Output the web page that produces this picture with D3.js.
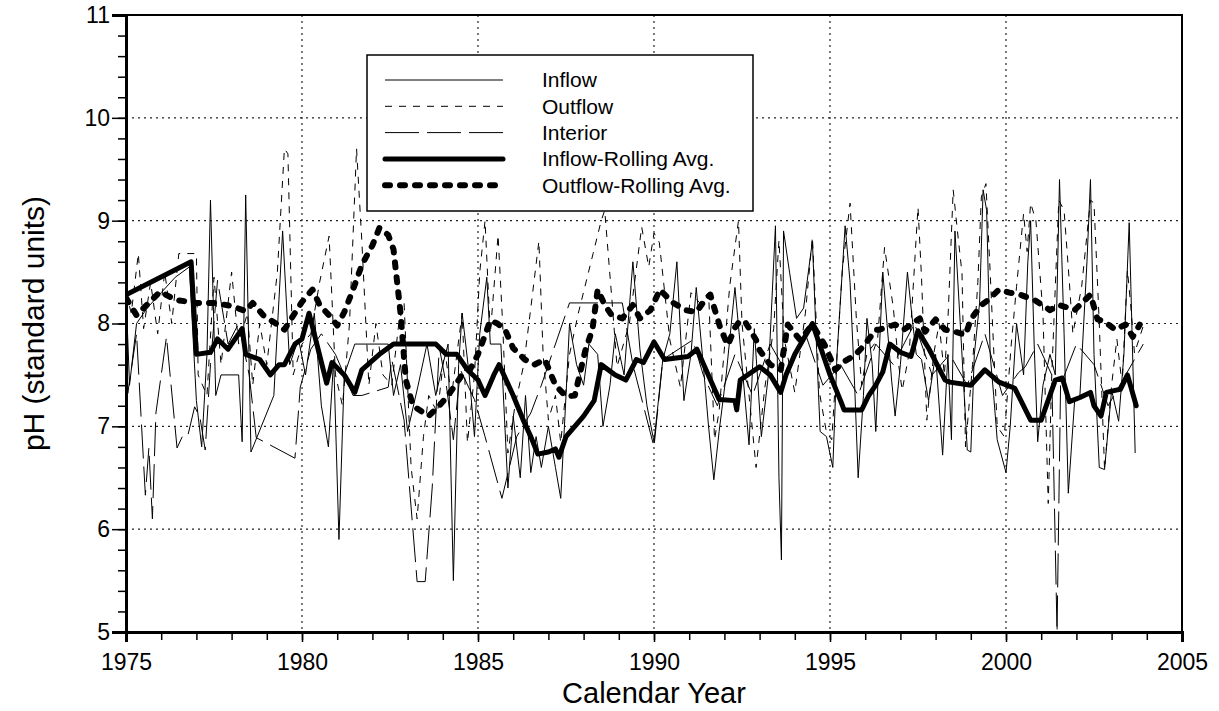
<!DOCTYPE html>
<html>
<head>
<meta charset="utf-8">
<script src="https://cdn.jsdelivr.net/npm/d3@7"></script>
<style>
  body { margin: 0; background: #fff; }
  text { font-family: Arial, "Liberation Sans", sans-serif; fill: #000; }
</style>
</head>
<body>
<svg width="1219" height="711"></svg>
<script>
// ---- data: [decimal year, pH] ----
const inflow = [
  [1975.00,8.30],[1975.10,7.40],[1975.30,8.00],[1975.60,8.15],[1976.00,8.30],[1976.40,8.45],[1976.80,8.55],
  [1977.00,7.25],[1977.15,6.80],[1977.30,7.70],[1977.40,9.20],[1977.55,7.30],[1977.70,7.50],[1978.20,7.50],
  [1978.30,6.85],[1978.40,9.25],[1978.55,6.75],[1979.20,7.30],[1979.45,8.90],[1979.65,7.60],[1979.90,7.85],
  [1980.10,7.50],[1980.35,8.10],[1980.55,7.20],[1980.75,6.80],[1980.90,7.65],[1981.05,5.90],[1981.20,7.50],
  [1981.50,7.80],[1982.45,7.80],[1982.60,7.30],[1982.80,7.60],[1983.00,6.95],[1983.30,7.40],[1983.55,7.80],
  [1983.80,7.30],[1984.00,7.60],[1984.15,7.80],[1984.30,5.50],[1984.45,7.60],[1984.55,8.10],[1984.75,7.50],
  [1984.90,6.90],[1985.05,7.90],[1985.25,8.45],[1985.35,7.80],[1985.65,7.80],[1985.85,6.40],[1986.00,7.10],
  [1986.20,6.50],[1986.35,7.30],[1986.50,6.55],[1986.65,6.90],[1986.80,6.60],[1987.00,7.00],[1987.20,6.60],
  [1987.35,6.30],[1987.50,7.30],[1987.60,8.00],[1987.80,7.60],[1988.00,7.40],[1988.15,7.80],[1988.40,7.70],
  [1988.55,7.00],[1988.75,7.40],[1988.90,7.90],[1989.15,7.50],[1989.40,8.60],[1989.60,7.75],[1989.80,7.20],
  [1990.00,6.85],[1990.25,7.65],[1990.45,7.90],[1990.65,8.60],[1990.85,7.25],[1991.05,7.70],[1991.20,8.35],
  [1991.40,7.60],[1991.55,7.00],[1991.70,6.48],[1991.85,6.95],[1992.05,7.50],[1992.30,8.35],[1992.50,7.60],
  [1992.70,6.82],[1992.85,7.95],[1993.05,6.90],[1993.25,7.50],[1993.45,8.95],[1993.55,6.50],[1993.62,5.70],
  [1993.68,8.90],[1993.85,8.50],[1994.05,8.05],[1994.25,8.15],[1994.50,8.80],[1994.62,7.75],[1994.72,6.95],
  [1994.90,6.90],[1995.08,6.60],[1995.20,7.70],[1995.43,8.95],[1995.57,8.40],[1995.70,7.40],[1995.80,6.50],
  [1995.95,7.30],[1996.05,8.05],[1996.20,7.60],[1996.30,6.95],[1996.50,8.50],[1996.62,8.00],[1996.75,7.45],
  [1996.85,7.10],[1997.00,7.60],[1997.20,8.50],[1997.32,8.10],[1997.45,7.70],[1997.60,7.65],[1997.80,7.25],
  [1998.00,7.70],[1998.20,6.72],[1998.35,7.70],[1998.45,6.87],[1998.55,8.90],[1998.70,8.00],[1998.90,6.77],
  [1999.00,6.75],[1999.10,7.70],[1999.25,8.20],[1999.35,9.30],[1999.45,9.10],[1999.55,7.70],[1999.65,7.30],
  [1999.75,6.87],[2000.00,6.55],[2000.12,7.00],[2000.30,8.00],[2000.50,7.50],[2000.62,8.60],[2000.70,9.00],
  [2000.80,7.80],[2000.90,6.85],[2001.05,7.40],[2001.25,7.70],[2001.40,7.50],[2001.52,9.40],[2001.65,7.90],
  [2001.77,6.35],[2001.95,7.25],[2002.10,7.30],[2002.30,8.60],[2002.40,9.40],[2002.50,7.70],[2002.65,6.60],
  [2002.80,6.58],[2003.00,7.35],[2003.20,7.05],[2003.35,7.70],[2003.50,8.98],[2003.67,6.74]
];

const outflow = [
  [1975.00,8.30],[1975.15,8.10],[1975.35,8.68],[1975.50,7.95],[1975.70,8.40],[1975.90,7.90],[1976.10,8.50],
  [1976.30,8.00],[1976.50,8.68],[1977.00,8.68],[1977.05,7.50],[1977.30,7.30],[1977.50,8.45],[1977.70,7.60],
  [1978.00,8.50],[1978.20,7.80],[1978.45,8.10],[1978.60,7.40],[1978.80,8.00],[1979.00,7.60],[1979.30,8.50],
  [1979.50,9.70],[1979.60,9.65],[1979.75,7.50],[1980.00,7.80],[1980.25,7.90],[1980.50,8.40],[1980.77,8.85],
  [1980.95,7.50],[1981.15,7.20],[1981.35,8.00],[1981.55,9.70],[1981.70,8.80],[1981.90,7.40],[1982.10,8.00],
  [1982.30,7.50],[1982.55,7.40],[1982.75,8.00],[1982.90,8.20],[1983.10,6.60],[1983.27,6.10],[1983.45,6.90],
  [1983.60,7.30],[1983.85,7.13],[1984.05,7.74],[1984.25,7.30],[1984.55,8.10],[1984.70,6.84],[1984.90,7.50],
  [1985.05,8.50],[1985.20,9.00],[1985.35,7.90],[1985.57,8.86],[1985.70,8.00],[1985.85,6.74],[1986.05,7.20],
  [1986.30,7.60],[1986.50,8.15],[1986.73,8.80],[1986.85,7.70],[1987.00,7.06],[1987.20,7.30],[1987.35,6.84],
  [1987.60,7.70],[1987.85,8.10],[1988.27,8.68],[1988.50,9.00],[1988.60,9.10],[1988.80,8.25],[1988.95,7.58],
  [1989.30,8.00],[1989.65,8.94],[1989.85,8.55],[1990.00,8.88],[1990.15,8.79],[1990.45,7.84],[1990.75,7.38],
  [1991.05,8.30],[1991.30,8.20],[1991.55,8.30],[1991.72,6.87],[1991.85,7.15],[1992.15,8.36],[1992.40,9.00],
  [1992.50,8.00],[1992.75,7.13],[1992.90,6.60],[1993.15,7.38],[1993.40,7.95],[1993.55,8.81],[1993.70,7.85],
  [1994.00,7.33],[1994.30,8.10],[1994.50,8.84],[1994.70,7.33],[1994.90,6.94],[1995.05,6.87],[1995.35,8.52],
  [1995.57,9.17],[1995.75,8.04],[1995.90,7.40],[1996.05,7.71],[1996.35,7.84],[1996.55,8.74],[1996.80,8.15],
  [1996.95,7.60],[1997.05,7.35],[1997.25,7.71],[1997.50,9.13],[1997.60,8.45],[1997.75,7.06],[1997.95,7.71],
  [1998.10,8.00],[1998.25,7.50],[1998.35,8.03],[1998.50,9.30],[1998.62,8.90],[1998.75,8.49],[1998.85,6.80],
  [1999.05,7.60],[1999.20,8.40],[1999.30,9.23],[1999.43,9.36],[1999.55,8.50],[1999.75,7.00],[1999.95,6.90],
  [2000.15,7.80],[2000.30,8.36],[2000.50,9.07],[2000.60,8.70],[2000.70,9.17],[2000.85,9.00],[2001.05,8.10],
  [2001.20,6.25],[2001.30,7.50],[2001.50,9.20],[2001.65,9.10],[2001.80,8.40],[2001.90,7.90],[2002.15,8.36],
  [2002.40,9.20],[2002.50,9.17],[2002.65,8.00],[2002.80,6.58],[2003.00,7.40],[2003.15,7.85],[2003.30,7.40],
  [2003.45,8.52],[2003.55,8.15],[2003.65,7.71],[2003.95,8.03]
];

const interior = [
  [1975.00,8.30],[1975.05,7.32],[1975.30,7.90],[1975.55,6.33],[1975.65,6.79],[1975.75,6.10],[1975.85,7.13],
  [1976.15,7.87],[1976.45,6.79],[1976.60,6.90],[1976.75,6.90],[1976.95,7.19],[1977.10,7.09],[1977.25,6.77],
  [1977.40,7.60],[1977.60,8.42],[1977.90,7.80],[1978.20,8.00],[1978.50,7.50],[1978.70,6.89],[1979.80,6.69],
  [1979.95,7.38],[1980.25,7.75],[1980.55,7.90],[1980.95,7.70],[1981.45,7.30],[1981.70,7.30],[1982.45,7.38],
  [1982.55,7.65],[1982.90,7.06],[1983.27,5.49],[1983.50,5.49],[1983.70,6.41],[1983.90,7.77],[1984.10,7.40],
  [1984.30,6.87],[1984.50,7.55],[1984.90,7.26],[1985.20,6.90],[1985.68,6.30],[1986.10,6.90],[1986.50,7.13],
  [1986.80,7.40],[1987.60,8.20],[1989.10,8.20],[1989.40,7.60],[1990.00,6.80],[1990.25,7.65],[1991.10,7.84],
  [1991.40,7.50],[1991.80,7.20],[1992.30,7.70],[1992.80,7.30],[1993.30,7.80],[1993.80,7.50],[1994.30,7.90],
  [1994.80,7.40],[1995.30,7.60],[1995.80,7.30],[1996.30,7.80],[1996.80,7.60],[1997.40,8.00],[1997.90,7.50],
  [1998.40,7.70],[1998.90,7.40],[1999.40,7.90],[1999.90,7.30],[2000.35,7.52],[2000.55,7.58],[2000.90,7.80],
  [2001.30,7.50],[2001.45,5.00],[2001.55,7.40],[2002.00,7.80],[2002.50,7.60],[2002.90,7.20],[2003.40,7.50],
  [2003.90,7.80]
];

const inflowAvg = [
  [1975.00,8.28],[1976.85,8.60],[1977.00,7.70],[1977.40,7.72],[1977.60,7.85],[1977.90,7.75],[1978.30,7.95],
  [1978.40,7.70],[1978.80,7.65],[1979.10,7.50],[1979.35,7.60],[1979.50,7.60],[1979.80,7.80],[1980.00,7.85],
  [1980.20,8.10],[1980.70,7.42],[1980.85,7.62],[1981.20,7.50],[1981.50,7.33],[1981.70,7.55],[1982.20,7.70],
  [1982.60,7.80],[1983.80,7.80],[1984.10,7.70],[1984.40,7.70],[1984.70,7.55],[1985.00,7.45],[1985.20,7.30],
  [1985.45,7.50],[1985.60,7.60],[1986.00,7.30],[1986.30,7.05],[1986.50,6.90],[1986.70,6.73],[1987.00,6.75],
  [1987.20,6.78],[1987.30,6.70],[1987.50,6.90],[1988.00,7.10],[1988.30,7.25],[1988.50,7.60],[1988.90,7.50],
  [1989.20,7.45],[1989.50,7.65],[1989.70,7.62],[1990.00,7.82],[1990.30,7.65],[1990.97,7.68],[1991.22,7.75],
  [1991.85,7.26],[1992.30,7.25],[1992.35,7.16],[1992.45,7.45],[1993.00,7.58],[1993.30,7.50],[1993.60,7.33],
  [1993.75,7.50],[1994.00,7.70],[1994.50,8.00],[1995.00,7.50],[1995.30,7.25],[1995.40,7.16],[1995.90,7.16],
  [1996.10,7.30],[1996.30,7.40],[1996.50,7.53],[1996.70,7.80],[1997.00,7.72],[1997.30,7.68],[1997.50,7.93],
  [1997.80,7.76],[1998.27,7.45],[1998.40,7.43],[1999.00,7.40],[1999.40,7.55],[1999.80,7.43],[2000.25,7.37],
  [2000.70,7.06],[2001.00,7.06],[2001.40,7.45],[2001.60,7.47],[2001.80,7.24],[2002.10,7.28],[2002.40,7.33],
  [2002.50,7.20],[2002.70,7.10],[2002.85,7.33],[2003.10,7.35],[2003.25,7.36],[2003.45,7.50],[2003.70,7.20]
];

const outflowAvg = [
  [1975.00,8.25],[1975.30,8.08],[1975.97,8.31],[1976.40,8.23],[1977.00,8.20],[1977.50,8.20],[1978.00,8.17],
  [1978.40,8.12],[1978.60,8.20],[1978.90,8.08],[1979.30,7.99],[1979.50,7.94],[1979.70,8.05],[1980.00,8.21],
  [1980.30,8.33],[1980.50,8.18],[1980.85,8.05],[1981.00,7.98],[1981.20,8.11],[1981.45,8.33],[1981.70,8.57],
  [1982.00,8.76],[1982.20,8.93],[1982.45,8.86],[1982.60,8.72],[1982.80,8.10],[1982.95,7.45],[1983.15,7.20],
  [1983.60,7.10],[1983.90,7.20],[1984.15,7.30],[1984.35,7.40],[1984.55,7.50],[1984.77,7.55],[1985.00,7.70],
  [1985.35,8.03],[1985.55,8.00],[1985.77,7.94],[1986.00,7.76],[1986.33,7.65],[1986.60,7.60],[1986.90,7.65],
  [1987.20,7.40],[1987.50,7.29],[1987.75,7.30],[1988.05,7.74],[1988.25,7.94],[1988.40,8.33],[1988.60,8.18],
  [1988.80,8.08],[1989.10,8.05],[1989.40,8.18],[1989.60,8.05],[1989.90,8.13],[1990.17,8.33],[1990.50,8.21],
  [1990.90,8.13],[1991.20,8.11],[1991.45,8.23],[1991.60,8.28],[1991.73,8.13],[1991.90,7.94],[1992.10,7.79],
  [1992.30,7.96],[1992.45,8.03],[1992.60,8.01],[1992.90,7.84],[1993.00,7.74],[1993.30,7.60],[1993.60,7.55],
  [1993.80,7.99],[1994.15,7.84],[1994.50,7.99],[1994.85,7.79],[1995.15,7.55],[1995.40,7.63],[1995.70,7.69],
  [1995.98,7.79],[1996.30,7.94],[1996.40,7.94],[1996.85,7.99],[1997.10,7.94],[1997.30,7.99],[1997.55,8.05],
  [1997.70,7.92],[1998.00,8.04],[1998.27,7.94],[1998.55,7.92],[1998.85,7.89],[1999.00,8.04],[1999.30,8.18],
  [1999.50,8.23],[1999.80,8.33],[2000.10,8.30],[2000.40,8.28],[2000.80,8.23],[2001.25,8.13],[2001.50,8.18],
  [2001.80,8.15],[2001.95,8.13],[2002.25,8.23],[2002.40,8.28],[2002.60,8.04],[2002.80,8.02],[2003.10,7.94],
  [2003.40,7.99],[2003.60,7.87],[2003.80,7.99]
];

const xMajor = [1975, 1980, 1985, 1990, 1995, 2000, 2005];
const yMajor = [5, 6, 7, 8, 9, 10, 11];

const legendItems = [
  { name: "Inflow", width: 1, dash: null },
  { name: "Outflow", width: 1, dash: "7,7" },
  { name: "Interior", width: 1, dash: "34,8" },
  { name: "Inflow-Rolling Avg.", width: 5, dash: null },
  { name: "Outflow-Rolling Avg.", width: 6, dash: "5,10" }
];

// ---- layout ----
const svg = d3.select("svg");
const plotL = 126, plotR = 1182, plotT = 15, plotB = 632;

const x = d3.scaleLinear().domain([1975, 2005]).range([plotL, plotR]);
const y = d3.scaleLinear().domain([5, 11]).range([plotB, plotT]);

// grid (dotted)
const grid = svg.append("g");
grid.selectAll("line.vg").data(xMajor.slice(1, -1)).enter().append("line")
  .attr("x1", d => x(d)).attr("x2", d => x(d))
  .attr("y1", plotT).attr("y2", plotB)
  .style("stroke", "#222").style("stroke-width", 1.2).style("stroke-dasharray", "2,4");
grid.selectAll("line.hg").data(yMajor.slice(1, -1)).enter().append("line")
  .attr("x1", plotL).attr("x2", plotR)
  .attr("y1", d => y(d)).attr("y2", d => y(d))
  .style("stroke", "#222").style("stroke-width", 1.2).style("stroke-dasharray", "2,4");

// clip for the series
svg.append("clipPath").attr("id", "plot").append("rect")
  .attr("x", plotL).attr("y", plotT).attr("width", plotR - plotL).attr("height", plotB - plotT);

const line = d3.line().x(d => x(d[0])).y(d => y(d[1]));
const series = svg.append("g").attr("clip-path", "url(#plot)");

function drawSeries(data, width, dash, cap) {
  series.append("path").datum(data)
    .attr("d", line)
    .style("fill", "none").style("stroke", "#000")
    .style("stroke-width", width)
    .style("stroke-dasharray", dash)
    .style("stroke-linecap", cap || "butt")
    .style("stroke-linejoin", "round");
}

drawSeries(interior, 1, "34,8");
drawSeries(outflow, 1, "7,7");
drawSeries(inflow, 1, null);
drawSeries(inflowAvg, 5, null, "round");
drawSeries(outflowAvg, 6, "5,10", "round");

// frame
svg.append("rect").attr("x", plotL).attr("y", plotT)
  .attr("width", plotR - plotL).attr("height", plotB - plotT)
  .style("fill", "none").style("stroke", "#000").style("stroke-width", 2);

// axes
const xMinor = svg.append("g").attr("transform", "translate(0," + plotB + ")")
  .call(d3.axisBottom(x).tickValues(d3.range(1975, 2006)).tickSize(8).tickFormat(""));
const xAxis = svg.append("g").attr("transform", "translate(0," + plotB + ")")
  .call(d3.axisBottom(x).tickValues(xMajor).tickSize(10).tickPadding(12).tickFormat(d3.format("d")));
const yMinor = svg.append("g").attr("transform", "translate(" + plotL + ",0)")
  .call(d3.axisLeft(y).tickValues(d3.range(5, 11.01, 0.2)).tickSize(8).tickFormat(""));
const yAxis = svg.append("g").attr("transform", "translate(" + plotL + ",0)")
  .call(d3.axisLeft(y).tickValues(yMajor).tickSize(14).tickPadding(2).tickFormat(d3.format("d")));

[xMinor, xAxis, yMinor, yAxis].forEach(g => {
  g.select(".domain").style("stroke", "#000").style("stroke-width", 3);
  g.selectAll(".tick line").style("stroke", "#000").style("stroke-width", 1.5);
  g.selectAll("text").style("font-size", "23px")
    .style("font-family", 'Arial, "Liberation Sans", sans-serif').attr("fill", "#000");
});

// axis titles
svg.append("text").attr("x", (plotL + plotR) / 2).attr("y", 703)
  .attr("text-anchor", "middle").style("font-size", "29px").text("Calendar Year");
svg.append("text").attr("transform", "translate(44," + ((plotT + plotB) / 2) + ") rotate(-90)")
  .attr("text-anchor", "middle").style("font-size", "30px").text("pH (standard units)");

// legend
const lg = svg.append("g");
lg.append("rect").attr("x", 367).attr("y", 55).attr("width", 386).attr("height", 156)
  .style("fill", "#fff").style("stroke", "#000").style("stroke-width", 1.5);
const rows = lg.selectAll("g.row").data(legendItems).enter().append("g")
  .attr("transform", (d, i) => "translate(0," + (80 + i * 26.3) + ")");
rows.append("line").attr("x1", 385).attr("x2", 503).attr("y1", 0).attr("y2", 0)
  .style("stroke", "#000")
  .style("stroke-width", d => d.width)
  .style("stroke-dasharray", d => d.dash)
  .style("stroke-linecap", d => d.width > 2 ? "round" : "butt");
rows.append("text").attr("x", 542).attr("y", 0).attr("dy", "0.35em")
  .style("font-size", "21px").text(d => d.name);
</script>
</body>
</html>
